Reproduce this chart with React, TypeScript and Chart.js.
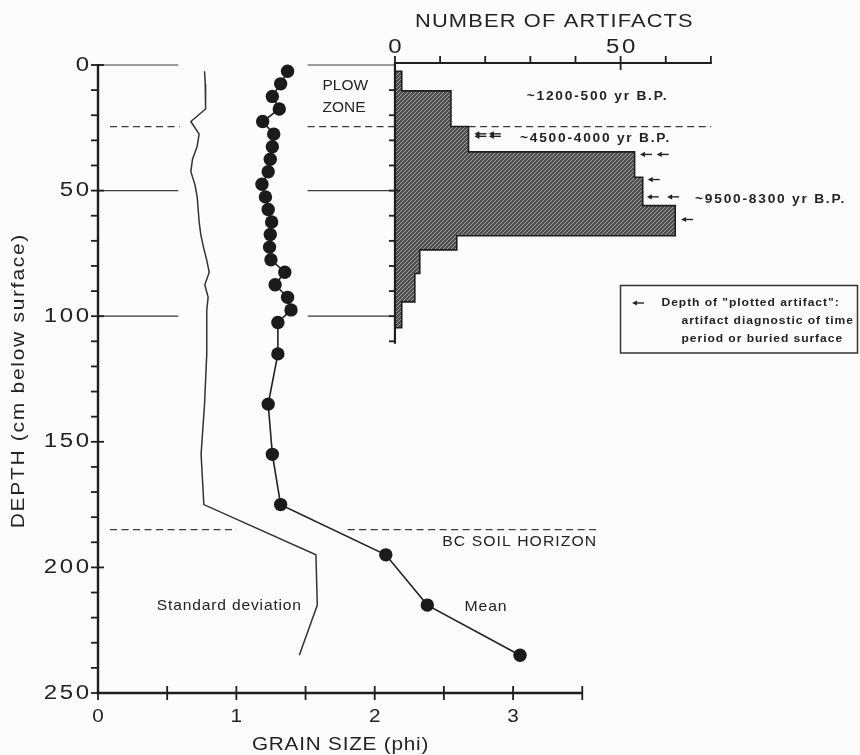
import React, { useEffect, useRef } from 'react';
import { Chart, registerables } from 'chart.js';

Chart.register(...registerables);

// ---- data ----
const sampleDepths = [2.5, 7.5, 12.5, 17.5, 22.5, 27.5, 32.5, 37.5, 42.5, 47.5, 52.5, 57.5, 62.5, 67.5, 72.5, 77.5, 82.5, 87.5, 92.5, 97.5, 102.5, 115, 135, 155, 175, 195, 215, 235];
const meanPhi = [1.37, 1.32, 1.26, 1.31, 1.19, 1.27, 1.26, 1.245, 1.23, 1.185, 1.21, 1.23, 1.255, 1.245, 1.24, 1.25, 1.35, 1.28, 1.37, 1.395, 1.3, 1.3, 1.23, 1.26, 1.32, 2.08, 2.38, 3.05];
const sdPhi = [0.77, 0.775, 0.78, 0.775, 0.671, 0.731, 0.716, 0.683, 0.671, 0.7, 0.717, 0.724, 0.731, 0.743, 0.762, 0.785, 0.804, 0.772, 0.796, 0.786, 0.786, 0.786, 0.77, 0.745, 0.765, 1.575, 1.585, 1.455];

const binTops = [2.5, 10.3, 24.5, 34.6, 44.7, 56, 68, 73.6, 83, 94.3];
const binBottoms = [10.3, 24.5, 34.6, 44.7, 56, 68, 73.6, 83, 94.3, 104.6];
const binCounts = [1.5, 12.4, 16.3, 53.1, 54.9, 62.1, 13.7, 5.5, 4.4, 1.5];

// plotted artifacts (arrow tip in artifact units, depth cm)
const arrowTips = [17.6, 20.8, 17.6, 20.8, 54.3, 58.0, 56.0, 55.8, 60.3, 63.4];
const arrowDepths = [27.4, 27.4, 28.4, 28.4, 35.6, 35.6, 45.6, 52.5, 52.5, 61.5];

// ticks
const depthTicks = [0, 10, 20, 30, 40, 50, 60, 70, 80, 90, 100, 110, 120, 130, 140, 150, 160, 170, 180, 190, 200, 210, 220, 230, 240, 250];
const depthLabels = [0, 50, 100, 150, 200, 250];
const phiTicks = [0, 0.5, 1, 1.5, 2, 2.5, 3, 3.5];
const phiLabels = [0, 1, 2, 3];
const artTicks = [0, 10, 20, 30, 40, 50, 60, 70];
const artLabels = [0, 50];
const histDepthTicks = [10, 20, 30, 40, 50, 60, 70, 80, 90, 100, 110];

// reference horizons
const solidRefDepths = [0, 50, 100];
const dashedRefDepths = [24.5, 185];
const dashedLeftEnd = [0.59, 1.003];
const dashedRightStart = [1.515, 1.804];
const dashedRightEnd = [4.43, 3.62];

const PHI_MAX = 4.4375;
const ART_MIN = -65.8;
const ART_MAX = 70.25;

const FAMILY = '"Liberation Sans", Arial, sans-serif';
const INK = '#232323';

type TOpts = { size: number; weight?: string; align?: 'left' | 'center' | 'right'; stretch?: number; spacing?: number; color?: string; rotate?: number };

function drawText(ctx: CanvasRenderingContext2D, text: string, x: number, y: number, o: TOpts) {
  const spacing = o.spacing ?? 0;
  const stretch = o.stretch ?? 1;
  ctx.save();
  ctx.font = `${o.weight ?? 'normal'} ${o.size}px ${FAMILY}`;
  (ctx as any).letterSpacing = `${spacing}px`;
  const w = ctx.measureText(text).width - spacing;
  ctx.translate(x, y);
  if (o.rotate) ctx.rotate(o.rotate);
  ctx.scale(stretch, 1);
  const align = o.align ?? 'left';
  const start = align === 'left' ? 0 : align === 'center' ? -w / 2 : -w;
  ctx.textAlign = 'left';
  ctx.textBaseline = 'middle';
  ctx.fillStyle = o.color ?? INK;
  ctx.fillText(text, start, 0);
  ctx.restore();
}

function drawArrow(ctx: CanvasRenderingContext2D, tipX: number, y: number, len: number) {
  ctx.save();
  ctx.strokeStyle = INK;
  ctx.fillStyle = INK;
  ctx.lineWidth = 1.4;
  ctx.beginPath();
  ctx.moveTo(tipX + 3, y);
  ctx.lineTo(tipX + len, y);
  ctx.stroke();
  ctx.beginPath();
  ctx.moveTo(tipX, y);
  ctx.lineTo(tipX + 5, y - 2.6);
  ctx.lineTo(tipX + 5, y + 2.6);
  ctx.closePath();
  ctx.fill();
  ctx.restore();
}

const axesPlugin = {
  id: 'customAxes',
  beforeDraw(chart: any) {
    const ctx = chart.ctx as CanvasRenderingContext2D;
    ctx.save();
    ctx.fillStyle = '#fcfcfc';
    ctx.fillRect(0, 0, chart.width, chart.height);
    ctx.restore();
  },
  beforeDatasetsDraw(chart: any) {
    const ctx = chart.ctx as CanvasRenderingContext2D;
    const xs = chart.scales.x, xa = chart.scales.xA, ys = chart.scales.y;
    const X = (v: number) => xs.getPixelForValue(v);
    const XA = (v: number) => xa.getPixelForValue(v);
    const Y = (v: number) => ys.getPixelForValue(v);
    ctx.save();
    ctx.strokeStyle = '#3a3a3a';
    ctx.lineWidth = 1.2;
    solidRefDepths.forEach((d) => {
      ctx.beginPath();
      ctx.moveTo(X(0), Y(d));
      ctx.lineTo(X(0.58), Y(d));
      ctx.moveTo(X(1.515), Y(d));
      ctx.lineTo(XA(0), Y(d));
      ctx.stroke();
    });
    ctx.setLineDash([7, 4.5]);
    dashedRefDepths.forEach((d, i) => {
      ctx.beginPath();
      ctx.moveTo(X(0.087), Y(d));
      ctx.lineTo(X(dashedLeftEnd[i]), Y(d));
      ctx.moveTo(X(dashedRightStart[i]), Y(d));
      ctx.lineTo(X(dashedRightEnd[i]), Y(d));
      ctx.stroke();
    });
    ctx.restore();
  },
  afterDraw(chart: any) {
    const ctx = chart.ctx as CanvasRenderingContext2D;
    const xs = chart.scales.x, xa = chart.scales.xA, ys = chart.scales.y;
    const X = (v: number) => xs.getPixelForValue(v);
    const XA = (v: number) => xa.getPixelForValue(v);
    const Y = (v: number) => ys.getPixelForValue(v);
    ctx.save();
    ctx.strokeStyle = '#1e1e1e';
    ctx.lineCap = 'butt';

    // main depth axis
    ctx.lineWidth = 2.4;
    ctx.beginPath();
    ctx.moveTo(X(0), Y(0) - 1);
    ctx.lineTo(X(0), Y(250) + 1);
    ctx.stroke();
    ctx.lineWidth = 1.8;
    depthTicks.forEach((d) => {
      ctx.beginPath();
      ctx.moveTo(X(0) - 7, Y(d));
      ctx.lineTo(d % 50 === 0 ? X(0) + 6 : X(0), Y(d));
      ctx.stroke();
    });

    // bottom grain size axis
    ctx.lineWidth = 2.4;
    ctx.beginPath();
    ctx.moveTo(X(0), Y(250));
    ctx.lineTo(X(3.5), Y(250));
    ctx.stroke();
    ctx.lineWidth = 1.8;
    phiTicks.forEach((p) => {
      ctx.beginPath();
      ctx.moveTo(X(p), Y(250) - 7);
      ctx.lineTo(X(p), Y(250) + 7);
      ctx.stroke();
    });

    // top artifact axis
    const topY = Y(0) - 2;
    ctx.lineWidth = 2.2;
    ctx.beginPath();
    ctx.moveTo(XA(0) - 1, topY);
    ctx.lineTo(XA(70) + 1, topY);
    ctx.stroke();
    ctx.lineWidth = 1.8;
    artTicks.forEach((a) => {
      ctx.beginPath();
      ctx.moveTo(XA(a), topY - 7);
      ctx.lineTo(XA(a), a === 50 ? topY + 7 : topY);
      ctx.stroke();
    });

    // histogram depth axis
    ctx.lineWidth = 2.2;
    ctx.beginPath();
    ctx.moveTo(XA(0), topY);
    ctx.lineTo(XA(0), Y(111));
    ctx.stroke();
    ctx.lineWidth = 1.8;
    histDepthTicks.forEach((d) => {
      ctx.beginPath();
      ctx.moveTo(XA(0) - 6, Y(d));
      ctx.lineTo(d === 50 ? XA(0) + 5 : XA(0), Y(d));
      ctx.stroke();
    });
    ctx.restore();

    // tick labels
    depthLabels.forEach((d) => drawText(ctx, String(d), X(0) - 9, Y(d), { size: 20, align: 'right', stretch: 1.2, spacing: 2.2 }));
    phiLabels.forEach((p) => drawText(ctx, String(p), X(p), Y(250) + 24, { size: 18, align: 'center', stretch: 1.15 }));
    artLabels.forEach((a) => drawText(ctx, String(a), XA(a), topY - 16, { size: 20, align: 'center', stretch: 1.2, spacing: 2.2 }));

    // axis titles
    drawText(ctx, 'NUMBER OF ARTIFACTS', XA(35.2), 22, { size: 19, align: 'center', stretch: 1.15, spacing: 1 });
    drawText(ctx, 'GRAIN SIZE (phi)', X(1.75), Y(250) + 52, { size: 18.5, align: 'center', stretch: 1.12, spacing: 0.7 });
    drawText(ctx, 'DEPTH (cm below surface)', 19, Y(126), { size: 19, align: 'center', stretch: 1.1, spacing: 1.6, rotate: -Math.PI / 2 });

    // annotations
    drawText(ctx, 'PLOW', X(1.623), Y(8.2), { size: 15, align: 'left', stretch: 1.03 });
    drawText(ctx, 'ZONE', X(1.623), Y(17), { size: 15, align: 'left', stretch: 1.03 });
    drawText(ctx, '~1200-500 yr B.P.', XA(29.2), Y(12.6), { size: 12.5, weight: 'bold', align: 'left', stretch: 1.1, spacing: 1.6 });
    drawText(ctx, '~4500-4000 yr B.P.', XA(27.7), Y(29.2), { size: 12.5, weight: 'bold', align: 'left', stretch: 1.1, spacing: 1.6 });
    drawText(ctx, '~9500-8300 yr B.P.', XA(66.5), Y(53.7), { size: 12.5, weight: 'bold', align: 'left', stretch: 1.1, spacing: 1.6 });
    drawText(ctx, 'BC SOIL HORIZON', X(3.6), Y(189.8), { size: 15, align: 'right', stretch: 1.05, spacing: 1 });
    drawText(ctx, 'Standard deviation', X(0.425), Y(215.4), { size: 15, align: 'left', stretch: 1.04, spacing: 0.8 });
    drawText(ctx, 'Mean', X(2.648), Y(215.6), { size: 15, align: 'left', stretch: 1.05, spacing: 0.9 });

    // plotted artifact arrows
    arrowTips.forEach((a, i) => drawArrow(ctx, XA(a), Y(arrowDepths[i]), 12));

    // legend box
    ctx.save();
    ctx.strokeStyle = '#333';
    ctx.lineWidth = 1.5;
    ctx.strokeRect(620.5, 285.5, 237, 67.5);
    ctx.restore();
    drawArrow(ctx, 632, 303, 12);
    drawText(ctx, 'Depth of "plotted artifact":', 661.5, 303, { size: 11.5, weight: 'bold', align: 'left', stretch: 1.05, spacing: 0.9 });
    drawText(ctx, 'artifact diagnostic of time', 681.5, 321, { size: 11.5, weight: 'bold', align: 'left', stretch: 1.05, spacing: 0.9 });
    drawText(ctx, 'period or buried surface', 681.5, 339, { size: 11.5, weight: 'bold', align: 'left', stretch: 1.05, spacing: 0.9 });
  },
};

export default function App() {
  const ref = useRef<HTMLCanvasElement | null>(null);
  useEffect(() => {
    document.body.style.margin = '0';
    const canvas = ref.current;
    if (!canvas) return;

    const histPts: { x: number; y: number }[] = [{ x: 0, y: binTops[0] }];
    binCounts.forEach((c, i) => {
      histPts.push({ x: c, y: binTops[i] });
      histPts.push({ x: c, y: binBottoms[i] });
    });
    histPts.push({ x: 0, y: binBottoms[binBottoms.length - 1] });
    histPts.push({ x: 0, y: binTops[0] });

    const hatchCanvas = document.createElement('canvas');
    hatchCanvas.width = 4;
    hatchCanvas.height = 4;
    const hg = hatchCanvas.getContext('2d')!;
    hg.fillStyle = '#505050';
    hg.fillRect(0, 0, 4, 4);
    hg.strokeStyle = '#b0b0b0';
    hg.lineWidth = 0.85;
    hg.beginPath();
    hg.moveTo(-1, 5);
    hg.lineTo(5, -1);
    hg.stroke();
    const hatch = canvas.getContext('2d')!.createPattern(hatchCanvas, 'repeat') || '#666';

    const chart = new Chart(canvas, {
      type: 'scatter',
      data: {
        datasets: [
          {
            label: 'Mean',
            data: sampleDepths.map((d, i) => ({ x: meanPhi[i], y: d })),
            xAxisID: 'x',
            yAxisID: 'y',
            showLine: true,
            borderColor: '#222',
            borderWidth: 1.6,
            pointRadius: 6.7,
            pointBackgroundColor: '#1b1b1b',
            pointBorderColor: '#1b1b1b',
            pointBorderWidth: 0,
            clip: false as any,
          },
          {
            label: 'Standard deviation',
            data: sampleDepths.map((d, i) => ({ x: sdPhi[i], y: d })),
            xAxisID: 'x',
            yAxisID: 'y',
            showLine: true,
            borderColor: '#333',
            borderWidth: 1.5,
            pointRadius: 0,
            clip: false as any,
          },
          {
            label: 'Artifacts',
            data: histPts,
            xAxisID: 'xA',
            yAxisID: 'y',
            showLine: true,
            fill: 'shape' as any,
            backgroundColor: hatch as any,
            borderColor: '#1e1e1e',
            borderWidth: 1.6,
            pointRadius: 0,
            tension: 0,
            clip: false as any,
          },
        ],
      },
      options: {
        responsive: false,
        maintainAspectRatio: false,
        animation: false,
        devicePixelRatio: 1,
        layout: { padding: { left: 98, right: 148, top: 65, bottom: 62 } },
        plugins: { legend: { display: false }, tooltip: { enabled: false } },
        scales: {
          x: { type: 'linear', min: 0, max: PHI_MAX, display: false },
          xA: { type: 'linear', min: ART_MIN, max: ART_MAX, display: false },
          y: { type: 'linear', min: 0, max: 250, reverse: true, display: false },
        },
      },
      plugins: [axesPlugin],
    });
    return () => chart.destroy();
  }, []);

  return (
    <div style={{ width: 860, height: 755, position: 'relative' }}>
      <canvas ref={ref} width={860} height={755} style={{ display: 'block', width: 860, height: 755 }} />
    </div>
  );
}
